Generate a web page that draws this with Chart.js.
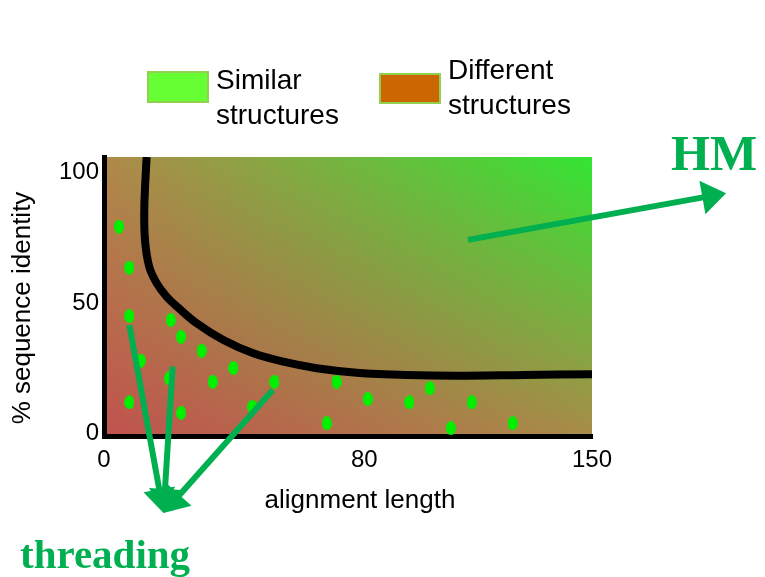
<!DOCTYPE html>
<html>
<head>
<meta charset="utf-8">
<title>% sequence identity vs alignment length</title>
<script src="https://cdn.jsdelivr.net/npm/chart.js@4.4.0/dist/chart.umd.min.js"></script>
<style>
  html, body { margin: 0; padding: 0; background: #fff; }
  #wrap { position: relative; width: 765px; height: 577px; }
</style>
</head>
<body>
<div id="wrap"><canvas id="chart"></canvas></div>
<script>
/* ===================== DATA ===================== */

// twilight-zone boundary: alignment length -> % identity
const curveX = [13.1, 12.4, 12.6, 13.9, 16.2, 19.3, 22.5, 28.5, 36.7, 45.9, 55.1, 65.4, 77.7, 93.1, 108.4, 128.9, 150];
const curveY = [106, 87.0, 74.2, 63.9, 57.6, 52.4, 48.6, 42.2, 35.8, 30.7, 27.5, 25.0, 23.3, 22.4, 22.1, 22.4, 22.7];

// aligned pairs
const pairX = [4.6, 7.8, 7.8, 20.5, 23.7, 30.0, 39.8, 33.4, 11.3, 20.0, 7.8, 23.7, 52.4, 45.6, 71.5, 68.5, 81.1, 93.9, 100.2, 113.0, 106.6, 125.6];
const pairY = [79.3, 63.6, 45.0, 43.5, 37.1, 31.7, 25.1, 19.8, 27.9, 21.1, 11.9, 7.9, 19.8, 10.2, 19.8, 3.9, 13.2, 11.9, 17.3, 11.9, 2.0, 3.9];

const xTicks = [0, 80, 150];
const yTicks = [0, 50, 100];

const legendLabels = [["Similar", "structures"], ["Different", "structures"]];
const legendColors = ["#66ff33", "#cc6600"];

// pointers, in axis units: [fromX, fromY, toX, toY]
const hmArrows = [[111.9, 74.2, 191.2, 92.1]];
const threadingArrows = [
  [7.8, 41.6, 18.3, -30.5],
  [21.1, 25.6, 18.3, -30.5],
  [51.9, 16.6, 18.3, -30.5]
];

/* ===================== HELPERS ===================== */

const SANS = "'Liberation Sans', Arial, sans-serif";
const SERIF = "'Liberation Serif', 'Times New Roman', serif";
const ARROW_GREEN = "#00b050";

// plot-area corner colours: top-left, top-right, bottom-left, bottom-right
const CORNERS = [[176, 137, 74], [51, 229, 51], [192, 82, 78], [168, 140, 72]];

function ellipseDot(w, h, color) {
  const c = document.createElement("canvas");
  c.width = w;
  c.height = h;
  const g = c.getContext("2d");
  g.fillStyle = color;
  g.beginPath();
  g.ellipse(w / 2, h / 2, w / 2, h / 2, 0, 0, Math.PI * 2);
  g.fill();
  return c;
}

function mix(a, b, t) {
  return a.map((v, i) => Math.round(v + (b[i] - v) * t));
}

function rgb(c) {
  return `rgb(${c[0]},${c[1]},${c[2]})`;
}

function drawArrow(ctx, x1, y1, x2, y2, width, headLen, headHalf) {
  const a = Math.atan2(y2 - y1, x2 - x1);
  const ux = Math.cos(a), uy = Math.sin(a);
  const bx = x2 - ux * headLen, by = y2 - uy * headLen;

  ctx.strokeStyle = ARROW_GREEN;
  ctx.lineWidth = width;
  ctx.lineCap = "butt";
  ctx.beginPath();
  ctx.moveTo(x1, y1);
  ctx.lineTo(bx + ux * 2, by + uy * 2);
  ctx.stroke();

  ctx.fillStyle = ARROW_GREEN;
  ctx.beginPath();
  ctx.moveTo(x2, y2);
  ctx.lineTo(bx - uy * headHalf, by + ux * headHalf);
  ctx.lineTo(bx + uy * headHalf, by - ux * headHalf);
  ctx.closePath();
  ctx.fill();
}

const dot = ellipseDot(10, 14, "#00f000");

/* ===================== PLUGINS ===================== */

// bilinear blend of the four corner colours, one gradient per row
const backdrop = {
  id: "backdrop",
  beforeDraw(chart) {
    const { ctx, chartArea: a } = chart;
    const [tl, tr, bl, br] = CORNERS;
    const h = a.bottom - a.top;
    ctx.save();
    for (let r = 0; r < h; r++) {
      const t = h > 1 ? r / (h - 1) : 0;
      const g = ctx.createLinearGradient(a.left, 0, a.right, 0);
      g.addColorStop(0, rgb(mix(tl, bl, t)));
      g.addColorStop(1, rgb(mix(tr, br, t)));
      ctx.fillStyle = g;
      ctx.fillRect(a.left, a.top + r, a.right - a.left, 1);
    }
    ctx.restore();
  }
};

const overlay = {
  id: "overlay",
  afterDraw(chart) {
    const { ctx, scales: { x, y } } = chart;
    ctx.save();

    // axis titles
    ctx.fillStyle = "#000";
    ctx.font = "26px " + SANS;
    ctx.textAlign = "center";
    ctx.textBaseline = "alphabetic";
    ctx.fillText("alignment length", 360, 508);
    ctx.save();
    ctx.translate(23, 308);
    ctx.rotate(-Math.PI / 2);
    ctx.textBaseline = "middle";
    ctx.fillText("% sequence identity", 0, 0);
    ctx.restore();

    // legend
    const boxes = [[147, 71, 62, 32, 89], [379, 73, 62, 31, 78.5]];
    ctx.textAlign = "left";
    ctx.font = "28px " + SANS;
    legendLabels.forEach((lines, i) => {
      const [bx, by, bw, bh, base] = boxes[i];
      ctx.fillStyle = legendColors[i];
      ctx.fillRect(bx, by, bw, bh);
      ctx.strokeStyle = "#92d050";
      ctx.lineWidth = 2;
      ctx.strokeRect(bx + 1, by + 1, bw - 2, bh - 2);
      ctx.fillStyle = "#000";
      lines.forEach((t, j) => ctx.fillText(t, bx + bw + 7, base + j * 35));
    });

    // pointers
    hmArrows.forEach(([x1, y1, x2, y2]) =>
      drawArrow(ctx, x.getPixelForValue(x1), y.getPixelForValue(y1),
                x.getPixelForValue(x2), y.getPixelForValue(y2), 6, 24, 17));
    threadingArrows.forEach(([x1, y1, x2, y2]) =>
      drawArrow(ctx, x.getPixelForValue(x1), y.getPixelForValue(y1),
                x.getPixelForValue(x2), y.getPixelForValue(y2), 6, 24, 16));

    ctx.fillStyle = ARROW_GREEN;
    ctx.font = "bold 50px " + SERIF;
    ctx.fillText("HM", 671, 170);
    ctx.font = "bold 41px " + SERIF;
    ctx.fillText("threading", 20, 568);

    ctx.restore();
  }
};

/* ===================== CHART ===================== */

const tickFont = { family: SANS, size: 24 };

new Chart(document.getElementById("chart"), {
  type: "scatter",
  data: {
    datasets: [
      {
        data: curveX.map((v, i) => ({ x: v, y: curveY[i] })),
        showLine: true,
        borderColor: "#000",
        borderWidth: 8,
        borderCapStyle: "butt",
        borderJoinStyle: "round",
        tension: 0.35,
        pointRadius: 0,
        fill: false
      },
      {
        data: pairX.map((v, i) => ({ x: v, y: pairY[i] })),
        pointStyle: dot,
        pointRadius: 7,
        backgroundColor: "#00f000"
      }
    ]
  },
  options: {
    responsive: true,
    maintainAspectRatio: false,
    animation: false,
    layout: { padding: { left: 0, top: 157, right: 173, bottom: 0 } },
    plugins: { legend: { display: false }, tooltip: { enabled: false } },
    scales: {
      x: {
        type: "linear",
        min: 0,
        max: 150,
        z: 1,
        grid: { display: false, drawTicks: false },
        border: { display: true, color: "#000", width: 5 },
        ticks: { font: tickFont, color: "#000", padding: 10, maxRotation: 0, autoSkip: false },
        afterBuildTicks: s => { s.ticks = xTicks.map(v => ({ value: v })); },
        afterFit: s => { s.height = 141; }
      },
      y: {
        type: "linear",
        min: -1,
        max: 106,
        z: 1,
        grid: { display: false, drawTicks: false },
        border: { display: true, color: "#000", width: 5 },
        ticks: { font: tickFont, color: "#000", padding: 5, autoSkip: false },
        afterBuildTicks: s => { s.ticks = yTicks.map(v => ({ value: v })); },
        afterFit: s => { s.width = 104; }
      }
    }
  },
  plugins: [backdrop, overlay]
});
</script>
</body>
</html>
